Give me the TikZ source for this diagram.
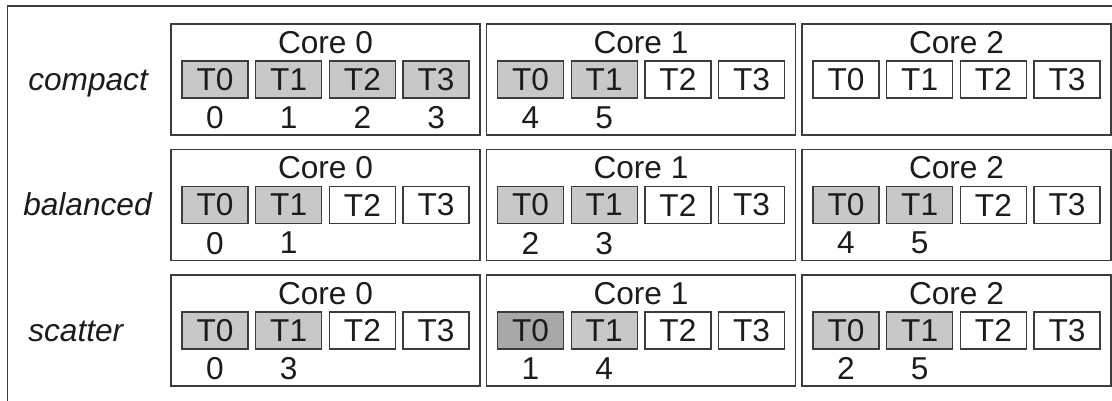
\documentclass[tikz,border=0pt]{standalone}
\usepackage{fontspec}
\setmainfont{Liberation Sans}
\usetikzlibrary{positioning}

\definecolor{edge}{RGB}{60,60,60}
\definecolor{busy}{RGB}{200,200,200}
\definecolor{busier}{RGB}{168,168,168}
\definecolor{ink}{RGB}{28,28,28}

\begin{document}
\begin{tikzpicture}[x=0.025cm, y=-0.025cm,
  every node/.style={font=\fontsize{22.5}{27}\selectfont, text=ink, inner sep=0pt},
  corebox/.style={draw=edge, line width=1pt, minimum width=7.725cm, minimum height=2.775cm},
  thread/.style={draw=edge, line width=0.9pt, minimum width=1.65cm, minimum height=0.925cm}]
  \useasboundingbox (0,0) rectangle (1112,401);
  \draw[edge, line width=1pt] (7.5,401) |- (1112,6);

  \node[anchor=base west] (compact) at (28,90) {\itshape compact};
  \node[anchor=base west] (balanced) at (23,215.5) {\itshape balanced};
  \node[anchor=base west] (scatter) at (28,341) {\itshape scatter};

  \foreach \r/\c/\fa/\fb/\fc/\fd in {0/0/busy/busy/busy/busy, 0/1/busy/busy/white/white,
      0/2/white/white/white/white, 1/0/busy/busy/white/white, 1/1/busy/busy/white/white,
      1/2/busy/busy/white/white, 2/0/busy/busy/white/white, 2/1/busier/busy/white/white,
      2/2/busy/busy/white/white} {
    \node[corebox] (c\r\c) at (325.5+315.5*\c, 79.5+125.5*\r) {};
    \node[below=0.19cm of c\r\c.north] (l\r\c) {Core \c};
    \foreach \t/\f in {0/\fa, 1/\fb, 2/\fc, 3/\fd}
      \node[thread, fill=\f] (t\r\c\t) at (215+315.5*\c+73.7*\t, 79.5+125.5*\r) {T\t};
  }

  \foreach \r/\c/\t/\n in {0/0/0/0, 0/0/1/1, 0/0/2/2, 0/0/3/3, 0/1/0/4, 0/1/1/5,
      1/0/0/0, 1/0/1/1, 1/1/0/2, 1/1/1/3, 1/2/0/4, 1/2/1/5,
      2/0/0/0, 2/0/1/3, 2/1/0/1, 2/1/1/4, 2/2/0/2, 2/2/1/5}
    \node[below=0.19cm of t\r\c\t] (n\r\c\t) {\n};
\end{tikzpicture}
\end{document}
